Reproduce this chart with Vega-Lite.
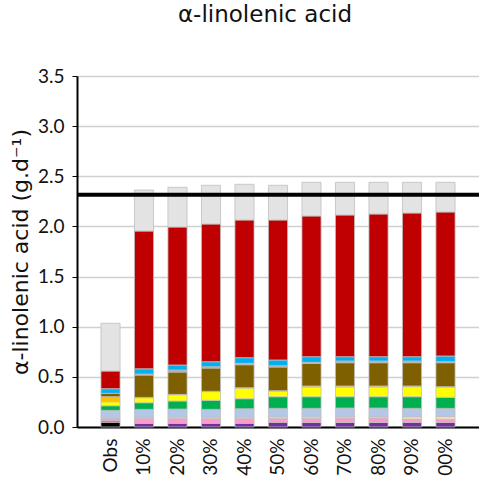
{
  "$schema": "https://vega.github.io/schema/vega-lite/v6.json",
  "width": 402,
  "height": 351,
  "autosize": "none",
  "padding": {"left": 77, "top": 76, "right": 0, "bottom": 55},
  "config": {"view": {"stroke": null}, "font": "Lato"},
  "title": {"text": "α-linolenic acid", "fontSize": 23, "fontWeight": "normal", "font": "DejaVu Sans", "color": "#111", "anchor": "middle", "offset": 40, "dx": -13},
  "datasets": {
    "segs": [
      {"c": "Obs", "s": "A", "k": 1, "v": 0.047},
      {"c": "Obs", "s": "B", "k": 2, "v": 0.013},
      {"c": "Obs", "s": "C", "k": 3, "v": 0.027},
      {"c": "Obs", "s": "E", "k": 5, "v": 0.079},
      {"c": "Obs", "s": "F", "k": 6, "v": 0.046},
      {"c": "Obs", "s": "G", "k": 7, "v": 0.04},
      {"c": "Obs", "s": "H", "k": 8, "v": 0.05},
      {"c": "Obs", "s": "I", "k": 9, "v": 0.034},
      {"c": "Obs", "s": "K", "k": 11, "v": 0.046},
      {"c": "Obs", "s": "L", "k": 12, "v": 0.176},
      {"c": "Obs", "s": "M", "k": 13, "v": 0.476},

      {"c": "10%", "s": "B", "k": 2, "v": 0.037},
      {"c": "10%", "s": "C", "k": 3, "v": 0.05},
      {"c": "10%", "s": "D", "k": 4, "v": 0.01},
      {"c": "10%", "s": "E", "k": 5, "v": 0.079},
      {"c": "10%", "s": "F", "k": 6, "v": 0.066},
      {"c": "10%", "s": "G", "k": 7, "v": 0.05},
      {"c": "10%", "s": "H", "k": 8, "v": 0.003},
      {"c": "10%", "s": "I", "k": 9, "v": 0.223},
      {"c": "10%", "s": "J", "k": 10, "v": 0.01},
      {"c": "10%", "s": "K", "k": 11, "v": 0.052},
      {"c": "10%", "s": "L", "k": 12, "v": 1.374},
      {"c": "10%", "s": "M", "k": 13, "v": 0.409},

      {"c": "20%", "s": "B", "k": 2, "v": 0.037},
      {"c": "20%", "s": "C", "k": 3, "v": 0.05},
      {"c": "20%", "s": "D", "k": 4, "v": 0.012},
      {"c": "20%", "s": "E", "k": 5, "v": 0.08},
      {"c": "20%", "s": "F", "k": 6, "v": 0.08},
      {"c": "20%", "s": "G", "k": 7, "v": 0.063},
      {"c": "20%", "s": "H", "k": 8, "v": 0.003},
      {"c": "20%", "s": "I", "k": 9, "v": 0.223},
      {"c": "20%", "s": "J", "k": 10, "v": 0.02},
      {"c": "20%", "s": "K", "k": 11, "v": 0.05},
      {"c": "20%", "s": "L", "k": 12, "v": 1.376},
      {"c": "20%", "s": "M", "k": 13, "v": 0.396},

      {"c": "30%", "s": "B", "k": 2, "v": 0.037},
      {"c": "30%", "s": "C", "k": 3, "v": 0.046},
      {"c": "30%", "s": "D", "k": 4, "v": 0.014},
      {"c": "30%", "s": "E", "k": 5, "v": 0.079},
      {"c": "30%", "s": "F", "k": 6, "v": 0.09},
      {"c": "30%", "s": "G", "k": 7, "v": 0.087},
      {"c": "30%", "s": "H", "k": 8, "v": 0.003},
      {"c": "30%", "s": "I", "k": 9, "v": 0.232},
      {"c": "30%", "s": "J", "k": 10, "v": 0.013},
      {"c": "30%", "s": "K", "k": 11, "v": 0.05},
      {"c": "30%", "s": "L", "k": 12, "v": 1.373},
      {"c": "30%", "s": "M", "k": 13, "v": 0.386},

      {"c": "40%", "s": "B", "k": 2, "v": 0.037},
      {"c": "40%", "s": "C", "k": 3, "v": 0.05},
      {"c": "40%", "s": "D", "k": 4, "v": 0.012},
      {"c": "40%", "s": "E", "k": 5, "v": 0.083},
      {"c": "40%", "s": "F", "k": 6, "v": 0.1},
      {"c": "40%", "s": "G", "k": 7, "v": 0.107},
      {"c": "40%", "s": "H", "k": 8, "v": 0.003},
      {"c": "40%", "s": "I", "k": 9, "v": 0.229},
      {"c": "40%", "s": "J", "k": 10, "v": 0.014},
      {"c": "40%", "s": "K", "k": 11, "v": 0.056},
      {"c": "40%", "s": "L", "k": 12, "v": 1.373},
      {"c": "40%", "s": "M", "k": 13, "v": 0.356},

      {"c": "50%", "s": "B", "k": 2, "v": 0.047},
      {"c": "50%", "s": "C", "k": 3, "v": 0.04},
      {"c": "50%", "s": "D", "k": 4, "v": 0.014},
      {"c": "50%", "s": "E", "k": 5, "v": 0.085},
      {"c": "50%", "s": "F", "k": 6, "v": 0.116},
      {"c": "50%", "s": "G", "k": 7, "v": 0.057},
      {"c": "50%", "s": "H", "k": 8, "v": 0.003},
      {"c": "50%", "s": "I", "k": 9, "v": 0.236},
      {"c": "50%", "s": "J", "k": 10, "v": 0.013},
      {"c": "50%", "s": "K", "k": 11, "v": 0.057},
      {"c": "50%", "s": "L", "k": 12, "v": 1.396},
      {"c": "50%", "s": "M", "k": 13, "v": 0.346},

      {"c": "60%", "s": "B", "k": 2, "v": 0.045},
      {"c": "60%", "s": "C", "k": 3, "v": 0.042},
      {"c": "60%", "s": "D", "k": 4, "v": 0.014},
      {"c": "60%", "s": "E", "k": 5, "v": 0.085},
      {"c": "60%", "s": "F", "k": 6, "v": 0.116},
      {"c": "60%", "s": "G", "k": 7, "v": 0.097},
      {"c": "60%", "s": "H", "k": 8, "v": 0.01},
      {"c": "60%", "s": "I", "k": 9, "v": 0.226},
      {"c": "60%", "s": "J", "k": 10, "v": 0.01},
      {"c": "60%", "s": "K", "k": 11, "v": 0.056},
      {"c": "60%", "s": "L", "k": 12, "v": 1.403},
      {"c": "60%", "s": "M", "k": 13, "v": 0.336},

      {"c": "70%", "s": "B", "k": 2, "v": 0.045},
      {"c": "70%", "s": "C", "k": 3, "v": 0.045},
      {"c": "70%", "s": "D", "k": 4, "v": 0.012},
      {"c": "70%", "s": "E", "k": 5, "v": 0.087},
      {"c": "70%", "s": "F", "k": 6, "v": 0.113},
      {"c": "70%", "s": "G", "k": 7, "v": 0.097},
      {"c": "70%", "s": "H", "k": 8, "v": 0.01},
      {"c": "70%", "s": "I", "k": 9, "v": 0.232},
      {"c": "70%", "s": "J", "k": 10, "v": 0.017},
      {"c": "70%", "s": "K", "k": 11, "v": 0.043},
      {"c": "70%", "s": "L", "k": 12, "v": 1.413},
      {"c": "70%", "s": "M", "k": 13, "v": 0.326},

      {"c": "80%", "s": "B", "k": 2, "v": 0.045},
      {"c": "80%", "s": "C", "k": 3, "v": 0.045},
      {"c": "80%", "s": "D", "k": 4, "v": 0.012},
      {"c": "80%", "s": "E", "k": 5, "v": 0.087},
      {"c": "80%", "s": "F", "k": 6, "v": 0.113},
      {"c": "80%", "s": "G", "k": 7, "v": 0.097},
      {"c": "80%", "s": "H", "k": 8, "v": 0.01},
      {"c": "80%", "s": "I", "k": 9, "v": 0.232},
      {"c": "80%", "s": "J", "k": 10, "v": 0.017},
      {"c": "80%", "s": "K", "k": 11, "v": 0.043},
      {"c": "80%", "s": "L", "k": 12, "v": 1.423},
      {"c": "80%", "s": "M", "k": 13, "v": 0.316},

      {"c": "90%", "s": "B", "k": 2, "v": 0.045},
      {"c": "90%", "s": "C", "k": 3, "v": 0.035},
      {"c": "90%", "s": "D", "k": 4, "v": 0.022},
      {"c": "90%", "s": "E", "k": 5, "v": 0.084},
      {"c": "90%", "s": "F", "k": 6, "v": 0.116},
      {"c": "90%", "s": "G", "k": 7, "v": 0.1},
      {"c": "90%", "s": "H", "k": 8, "v": 0.007},
      {"c": "90%", "s": "I", "k": 9, "v": 0.232},
      {"c": "90%", "s": "J", "k": 10, "v": 0.017},
      {"c": "90%", "s": "K", "k": 11, "v": 0.043},
      {"c": "90%", "s": "L", "k": 12, "v": 1.433},
      {"c": "90%", "s": "M", "k": 13, "v": 0.306},

      {"c": "00%", "s": "B", "k": 2, "v": 0.045},
      {"c": "00%", "s": "C", "k": 3, "v": 0.033},
      {"c": "00%", "s": "D", "k": 4, "v": 0.025},
      {"c": "00%", "s": "E", "k": 5, "v": 0.083},
      {"c": "00%", "s": "F", "k": 6, "v": 0.11},
      {"c": "00%", "s": "G", "k": 7, "v": 0.103},
      {"c": "00%", "s": "H", "k": 8, "v": 0.003},
      {"c": "00%", "s": "I", "k": 9, "v": 0.239},
      {"c": "00%", "s": "J", "k": 10, "v": 0.01},
      {"c": "00%", "s": "K", "k": 11, "v": 0.057},
      {"c": "00%", "s": "L", "k": 12, "v": 1.436},
      {"c": "00%", "s": "M", "k": 13, "v": 0.296}
    ],
    "ref": [{"target": 2.316}]
  },
  "layer": [
    {
      "data": {"name": "segs"},
      "mark": {"type": "bar", "stroke": "#bfbfbf", "strokeWidth": 0.8},
      "encoding": {
        "x": {
          "field": "c", "type": "nominal",
          "sort": ["Obs", "10%", "20%", "30%", "40%", "50%", "60%", "70%", "80%", "90%", "00%"],
          "scale": {"paddingInner": 0.43, "paddingOuter": 0.715},
          "axis": {"title": null, "labelAngle": -90, "labelFontSize": 19, "labelColor": "#111", "labelPadding": 11, "ticks": false, "domainColor": "#000", "domainWidth": 2, "labelFont": "Lato"}
        },
        "y": {
          "field": "v", "type": "quantitative", "aggregate": "sum", "stack": "zero",
          "scale": {"domain": [0, 3.5], "nice": false},
          "axis": {"title": "α-linolenic acid (g.d⁻¹)", "titleFontSize": 22, "titleFontWeight": "normal", "titleColor": "#111", "titlePadding": 5, "titleFont": "DejaVu Sans",
                   "values": [0, 0.5, 1, 1.5, 2, 2.5, 3, 3.5], "format": ".1f", "labelFontSize": 19, "labelColor": "#111", "labelPadding": 8, "labelFont": "Lato",
                   "gridColor": "#d0d0d0", "gridWidth": 1.5, "domainColor": "#000", "domainWidth": 2, "tickColor": "#000", "tickSize": 5}
        },
        "order": {"field": "k", "type": "quantitative", "sort": "ascending"},
        "color": {
          "field": "s", "type": "nominal", "legend": null,
          "scale": {
            "domain": ["A", "B", "C", "D", "E", "F", "G", "H", "I", "J", "K", "L", "M"],
            "range": ["#000000", "#7030A0", "#FF99CC", "#FFE6B8", "#B4C7E7", "#00B050", "#FFFF00", "#FFC000", "#7F6000", "#A6A6A6", "#00B0F0", "#C00000", "#E3E3E3"]
          }
        }
      }
    },
    {
      "data": {"name": "ref"},
      "mark": {"type": "rule", "color": "#000", "strokeWidth": 4},
      "encoding": {"y": {"field": "target", "type": "quantitative"}}
    }
  ]
}
